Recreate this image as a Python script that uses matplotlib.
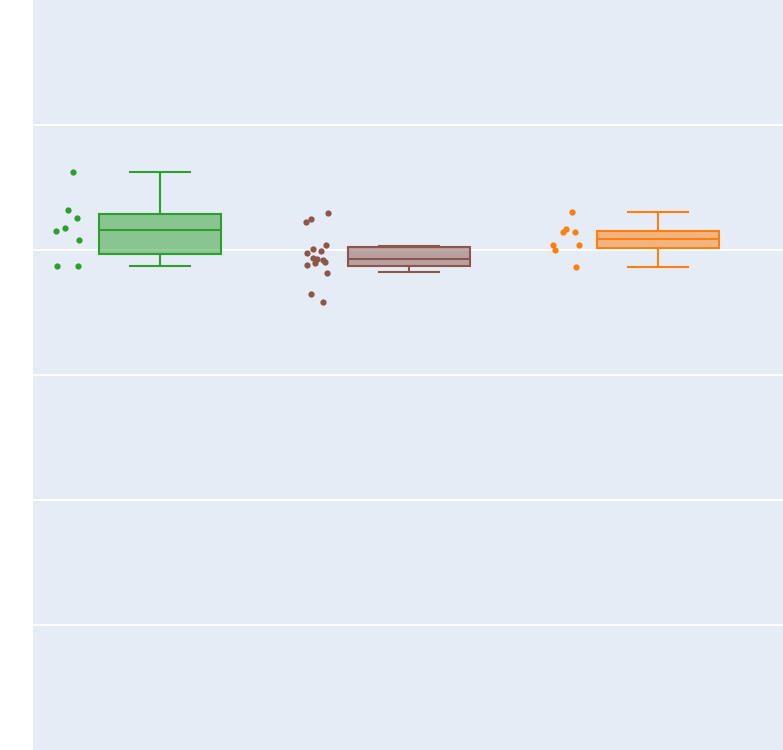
import matplotlib
matplotlib.use("Agg")
import matplotlib.pyplot as plt
from matplotlib.colors import to_rgba

# Three groups, shown as box + all points (values in axis units, grid every 1.0)
groups = ["A", "B", "C"]
colors = ["#2ca02c", "#8c564b", "#ff7f0e"]

pts_a = [4.626, 4.32, 4.256, 4.176, 4.152, 4.078, 3.87, 3.87]
pts_b = [4.294, 4.25, 4.224, 4.038, 4.006, 3.994, 3.978, 3.936, 3.926, 3.92,
         3.906, 3.894, 3.878, 3.82, 3.65, 3.586]
pts_c = [4.306, 4.166, 4.142, 4.146, 4.04, 4.0, 4.038, 3.866]

# horizontal jitter of the points
jit_a = [-0.348, -0.368, -0.333, -0.382, -0.418, -0.326, -0.413, -0.328]
jit_b = [-0.327, -0.394, -0.412, -0.333, -0.384, -0.352, -0.408, -0.384, -0.368,
         -0.344, -0.338, -0.379, -0.408, -0.328, -0.395, -0.344]
jit_c = [-0.345, -0.368, -0.383, -0.332, -0.422, -0.412, -0.316, -0.331]

# box statistics: lower whisker, q1, median, q3, upper whisker
whislo = [3.87, 3.822, 3.866]
q1 = [3.97, 3.874, 4.014]
med = [4.162, 3.928, 4.088]
q3 = [4.29, 4.022, 4.154]
whishi = [4.626, 4.034, 4.306]

points = [pts_a, pts_b, pts_c]
jitter = [jit_a, jit_b, jit_c]

fig = plt.figure(figsize=(7.83, 7.5), dpi=100)
ax = fig.add_axes([33 / 783, 0, 750 / 783, 1])
ax.set_facecolor("#E5ECF6")
for s in ax.spines.values():
    s.set_visible(False)

ax.set_xlim(-0.51, 2.502)
ax.set_ylim(0, 6)
ax.set_yticks([1, 2, 3, 4, 5])
ax.set_xticks([])
ax.tick_params(left=False, labelleft=False)
ax.grid(axis="y", color="white", linewidth=1.3)
ax.set_axisbelow(True)

for i, c in enumerate(colors):
    st = [{"whislo": whislo[i], "q1": q1[i], "med": med[i], "q3": q3[i],
           "whishi": whishi[i], "fliers": []}]
    lp = {"color": c, "linewidth": 1.5}
    ax.bxp(st, positions=[i], widths=0.49, capwidths=0.24, patch_artist=True,
           showfliers=False,
           boxprops={"facecolor": to_rgba(c, 0.5), "edgecolor": c, "linewidth": 1.5},
           medianprops=lp, whiskerprops=lp, capprops=lp, manage_ticks=False)
    xs = [i + j for j in jitter[i]]
    ax.plot(xs, points[i], "o", color=c, markersize=4.5, markeredgewidth=0)

fig.savefig("out.png", dpi=100, facecolor="white")
